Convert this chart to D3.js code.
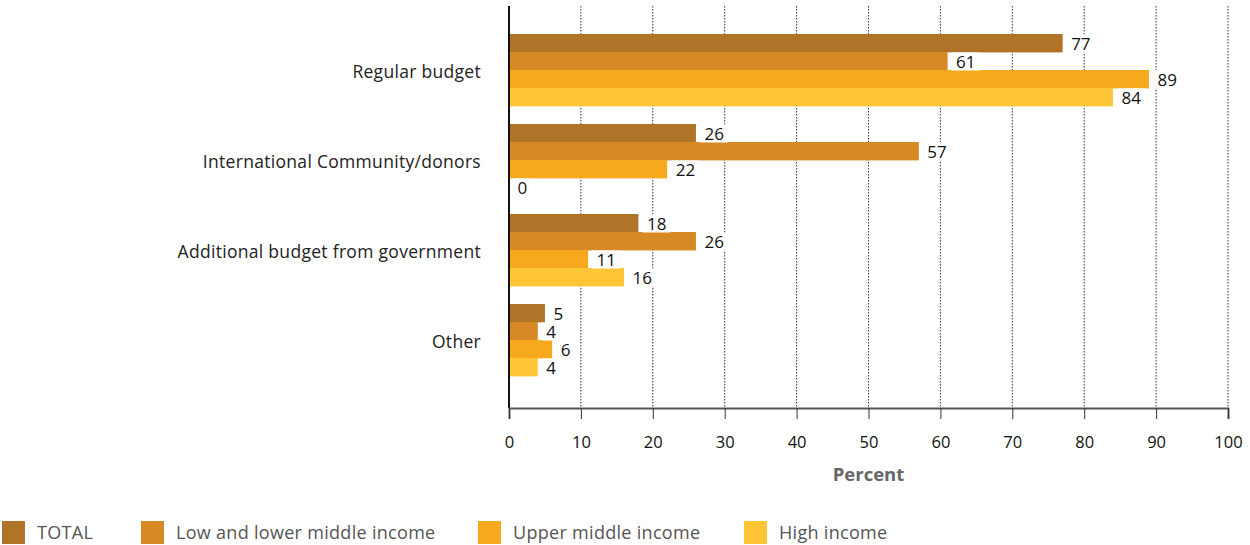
<!DOCTYPE html>
<html>
<head>
<meta charset="utf-8">
<script src="https://cdn.jsdelivr.net/npm/d3@7"></script>
<style>
  html, body { margin: 0; padding: 0; background: #fff; }
  svg { display: block; font-family: "Open Sans", Lato, sans-serif; }
</style>
</head>
<body>
<svg id="chart" width="1250" height="545"></svg>
<script>
// Funding sources, percent of countries by income group
const categories = ["Regular budget", "International Community/donors", "Additional budget from government", "Other"];
const seriesNames = ["TOTAL", "Low and lower middle income", "Upper middle income", "High income"];
const seriesColors = ["#B07428", "#D78925", "#F6A91D", "#FEC537"];
const totalValues = [77, 26, 18, 5];
const lowValues = [61, 57, 26, 4];
const upperValues = [89, 22, 11, 6];
const highValues = [84, 0, 16, 4];
const xTicks = [0, 10, 20, 30, 40, 50, 60, 70, 80, 90, 100];
const axisTitle = "Percent";

const series = [totalValues, lowValues, upperValues, highValues];
const font = "'Open Sans', Lato, sans-serif";

const svg = d3.select("#chart");
const plotLeft = 509, plotRight = 1228, plotTop = 6, axisY = 408;

const x = d3.scaleLinear().domain([0, 100]).range([plotLeft, plotRight]);
const y = d3.scaleBand().domain(categories).range([25, 385]).paddingInner(0.2).paddingOuter(0.1);
const sub = d3.scaleBand().domain(d3.range(series.length)).range([0, y.bandwidth()]);

// dotted vertical gridlines
svg.append("g").selectAll("line")
  .data(xTicks.filter(t => t > 0))
  .join("line")
  .attr("x1", d => x(d)).attr("x2", d => x(d))
  .attr("y1", plotTop).attr("y2", axisY)
  .attr("stroke", "#333").attr("stroke-width", 1)
  .attr("stroke-dasharray", "1.5,1.5");

// bars
const groups = svg.append("g").selectAll("g")
  .data(categories)
  .join("g")
  .attr("transform", d => `translate(0,${y(d)})`);

groups.selectAll("rect")
  .data((c, ci) => series.map((s, si) => ({ si, v: s[ci] })))
  .join("rect")
  .attr("x", x(0))
  .attr("y", d => sub(d.si))
  .attr("width", d => x(d.v) - x(0))
  .attr("height", sub.bandwidth() + 0.4)
  .attr("fill", d => seriesColors[d.si]);

// value labels with white backing
const labels = groups.selectAll("g.lbl")
  .data((c, ci) => series.map((s, si) => ({ si, v: s[ci] })))
  .join("g")
  .attr("class", "lbl")
  .attr("transform", d => `translate(${x(d.v) + 4},${sub(d.si) + sub.bandwidth() / 2 + 0.5})`);

labels.append("rect")
  .attr("x", 0).attr("y", -9)
  .attr("width", d => String(d.v).length * 10.5 + 7)
  .attr("height", 18)
  .attr("fill", "#fff");

labels.append("text")
  .attr("x", 4.5)
  .attr("dy", "0.36em")
  .attr("font-size", 17)
  .attr("fill", "#111")
  .text(d => d.v);

// y axis line
svg.append("line")
  .attr("x1", plotLeft).attr("x2", plotLeft)
  .attr("y1", plotTop).attr("y2", axisY)
  .attr("stroke", "#111").attr("stroke-width", 2);

// category labels
svg.append("g").selectAll("text")
  .data(categories)
  .join("text")
  .attr("x", 481)
  .attr("y", d => y(d) + y.bandwidth() / 2 + 2)
  .attr("dy", "0.35em")
  .attr("text-anchor", "end")
  .attr("font-size", 17.5)
  .attr("letter-spacing", 0.3)
  .attr("fill", "#222")
  .text(d => d);

// x axis
const xAxis = svg.append("g")
  .attr("transform", `translate(0,${axisY})`)
  .call(d3.axisBottom(x).tickValues(xTicks).tickSize(11).tickPadding(17));
xAxis.select(".domain").attr("stroke", "#555").attr("stroke-width", 2);
xAxis.selectAll(".tick line").attr("stroke", "#333").attr("stroke-width", 1);
xAxis.selectAll(".tick text")
  .attr("font-size", 16.5)
  .attr("fill", "#111")
  .attr("font-family", font);

svg.append("text")
  .attr("x", (plotLeft + plotRight) / 2)
  .attr("y", 481)
  .attr("text-anchor", "middle")
  .attr("font-size", 18.5)
  .attr("font-weight", "bold")
  .attr("fill", "#666")
  .text(axisTitle);

// legend
const legendX = [2, 141, 478, 744];
const legend = svg.append("g").selectAll("g")
  .data(seriesNames)
  .join("g")
  .attr("transform", (d, i) => `translate(${legendX[i]},521)`);
legend.append("rect")
  .attr("width", 23).attr("height", 23)
  .attr("fill", (d, i) => seriesColors[i]);
legend.append("text")
  .attr("x", 35).attr("y", 12)
  .attr("dy", "0.35em")
  .attr("font-size", 18)
  .attr("letter-spacing", 0.3)
  .attr("fill", "#555")
  .text(d => d);
</script>
</body>
</html>
